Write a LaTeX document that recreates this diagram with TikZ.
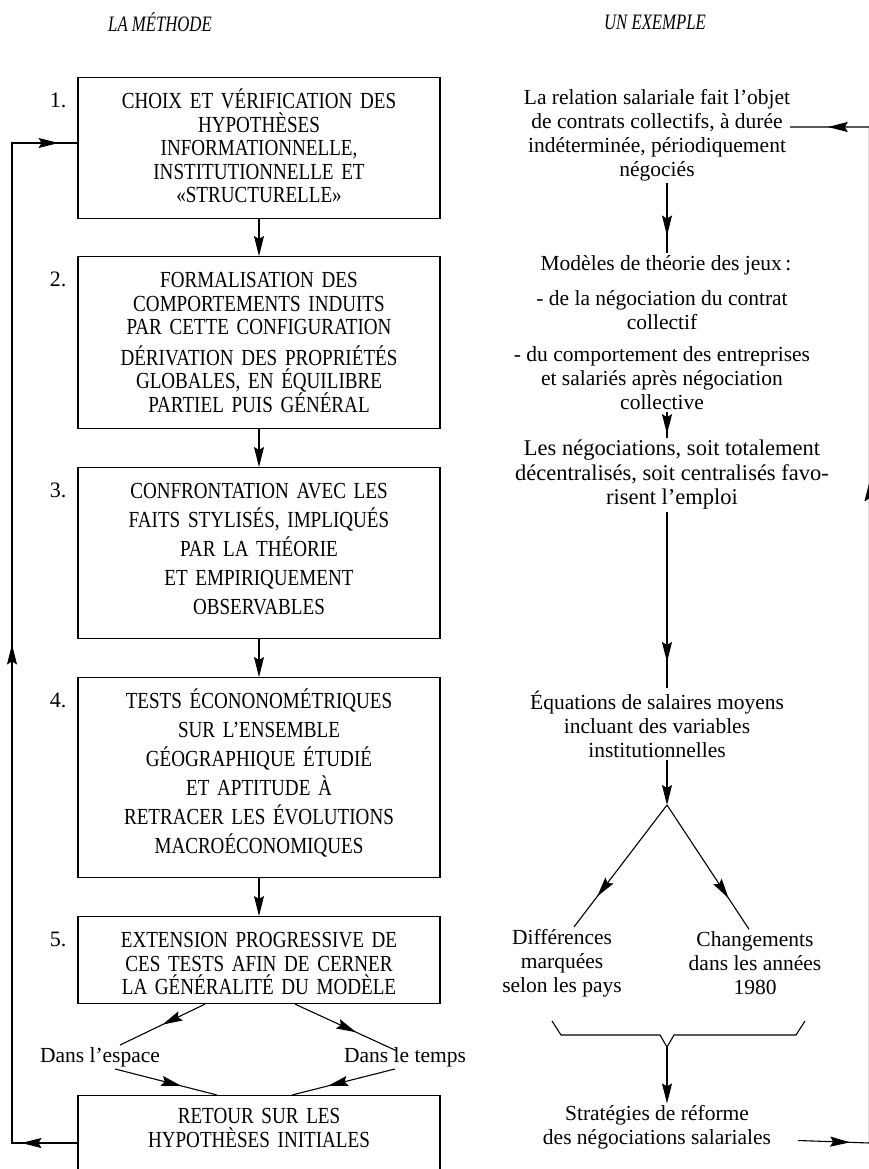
\documentclass[tikz,border=0pt]{standalone}
\usepackage{fontspec}
\setmainfont{Liberation Serif}
\newfontfamily\narrowfont[FakeStretch=0.83]{Liberation Serif}
\newfontfamily\headfont[FakeStretch=0.76]{Liberation Serif}
\usetikzlibrary{arrows.meta,decorations.markings}

\tikzset{
  >={Stealth[length=20pt,width=10pt,inset=3pt]},
  flow/.style={line width=1.1pt},
  methbox/.style={draw,line width=1.1pt,text width=354pt,align=center,inner sep=4pt,
    anchor=north,text height=27pt,font=\narrowfont\fontsize{23}{23.5}\selectfont},
  numlabel/.style={inner sep=0pt,font=\fontsize{22}{24}\selectfont},
  extext/.style={align=center,inner sep=2pt,font=\fontsize{21.5}{24}\selectfont},
  header/.style={font=\headfont\itshape\fontsize{22}{24}\selectfont},
  midarrow/.style={postaction={decorate},
    decoration={markings,mark=at position #1 with {\arrow{>}}}},
}

\begin{document}
\begin{tikzpicture}[x=1pt,y=-1pt]
  \useasboundingbox (0,0) rectangle (869,1169);
  \clip (0,0) rectangle (869,1169);

  % Method column
  \node[header] (hmeth) at (160,22) {LA MÉTHODE};
  \node[methbox,text depth=106pt] (box1) at (259,77)
    {CHOIX ET VÉRIFICATION DES\\HYPOTHÈSES\\INFORMATIONNELLE,\\INSTITUTIONNELLE ET\\«STRUCTURELLE»};
  \node[methbox,text depth=137pt] (box2) at (259,256)
    {FORMALISATION DES\\COMPORTEMENTS INDUITS\\PAR CETTE CONFIGURATION\\[7pt]DÉRIVATION DES PROPRIÉTÉS\\GLOBALES, EN ÉQUILIBRE\\PARTIEL PUIS GÉNÉRAL};
  \node[methbox,text depth=136pt,font=\narrowfont\fontsize{23}{29}\selectfont] (box3) at (259,467)
    {CONFRONTATION AVEC LES\\FAITS STYLISÉS, IMPLIQUÉS\\PAR LA THÉORIE\\ET EMPIRIQUEMENT\\OBSERVABLES};
  \node[methbox,text depth=165pt,font=\narrowfont\fontsize{23}{29}\selectfont] (box4) at (259,677)
    {TESTS ÉCONONOMÉTRIQUES\\SUR L’ENSEMBLE\\GÉOGRAPHIQUE ÉTUDIÉ\\ET APTITUDE À\\RETRACER LES ÉVOLUTIONS\\MACROÉCONOMIQUES};
  \node[methbox,text depth=52pt] (box5) at (259,916)
    {EXTENSION PROGRESSIVE DE\\CES TESTS AFIN DE CERNER\\LA GÉNÉRALITÉ DU MODÈLE};
  \node[methbox,text height=24pt,text depth=80pt] (retour) at (259,1095)
    {RETOUR SUR LES\\HYPOTHÈSES INITIALES};

  \node[numlabel] (n1) at (58,100) {1.};
  \node[numlabel] (n2) at (58,279) {2.};
  \node[numlabel] (n3) at (58,490) {3.};
  \node[numlabel] (n4) at (58,700) {4.};
  \node[numlabel] (n5) at (58,939) {5.};

  \node[extext] (espace) at (100,1057) {Dans l’espace};
  \node[extext] (temps) at (405,1057) {Dans le temps};

  \draw[flow,->] (box1) -- (box2);
  \draw[flow,->] (box2) -- (box3);
  \draw[flow,->] (box3) -- (box4);
  \draw[flow,->] (box4) -- (box5);
  \draw[flow,midarrow=0.5] ([xshift=-54pt]box5.south) -- ([xshift=20pt]espace.north);
  \draw[flow,midarrow=0.6] ([xshift=36pt]box5.south) -- ([xshift=-8pt,yshift=6pt]temps.center);
  \draw[flow,midarrow=0.65] ([xshift=15pt]espace.south) -- ([xshift=-42pt]retour.north);
  \draw[flow,midarrow=0.65] ([xshift=-10pt]temps.south) -- ([xshift=33pt]retour.north);

  % Example column
  \node[header] (hex) at (655,22) {UN EXEMPLE};
  \coordinate (axis) at (667,0);
  \node[extext] (r1) at (657,135)
    {La relation salariale fait l’objet\\de contrats collectifs, à durée\\indéterminée, périodiquement\\négociés};
  \node[extext] (r2) at (666,265) {Modèles de théorie des jeux\,:};
  \node[extext] (r3) at (662,310) {- de la négociation du contrat\\collectif};
  \node[extext] (r4) at (662,378) {- du comportement des entreprises\\et salariés après négociation\\collective};
  \node[extext,font=\fontsize{22.5}{24.5}\selectfont] (r5) at (672,475)
    {Les négociations, soit totalement\\décentralisés, soit centralisés favo-\\risent l’emploi};
  \node[extext] (r6) at (657,724)
    {Équations de salaires moyens\\incluant des variables\\institutionnelles};
  \coordinate (fork) at (667,805);
  \node[extext] (r7) at (562,963) {Différences\\marquées\\selon les pays};
  \node[extext] (r8) at (755,963) {Changements\\dans les années\\1980};
  \coordinate (brace) at (667,1047);
  \node[extext] (r9) at (657,1127.5) {Stratégies de réforme\\des négociations salariales};

  \draw[flow,midarrow=0.75] (r1.south -| axis) -- (r2.north -| axis);
  \draw[flow,midarrow=0.85] (r4.south -| axis) -- (r5.north -| axis);
  \draw[flow,midarrow=0.85] (r5.south -| axis) -- (r6.north -| axis);
  \draw[flow,->] (r6.south -| axis) -- (fork);
  \draw[flow,midarrow=0.75] (fork) -- ([xshift=12pt]r7.north);
  \draw[flow,midarrow=0.75] (fork) -- ([xshift=-6pt]r8.north);
  \draw[flow] (552,1021) -- (561,1035) -- (660,1035) -- (brace) -- (674,1035)
    -- (796,1035) -- (805,1021);
  \draw[flow,->] (brace) -- (r9.north -| axis);

  % Feedback loops
  \coordinate (lbot) at (12,1143);
  \coordinate (ltop) at (12,143);
  \draw[flow,postaction={decorate},decoration={markings,
      mark=at position 56pt with {\arrow{>}},
      mark=at position 564pt with {\arrow{>}},
      mark=at position 1112pt with {\arrow{>}}}]
    (retour.west |- lbot) -- (lbot) -- (ltop) -- (box1.west |- ltop);
  \coordinate (rbot) at (869.5,1143);
  \coordinate (rtop) at (869.5,127);
  \coordinate (rend) at (790,127);
  \draw[flow,postaction={decorate},decoration={markings,
      mark=at position 52pt with {\arrow{>}},
      mark=at position 733pt with {\arrow{>}},
      mark=at position 1129pt with {\arrow{>}}}]
    ([xshift=25pt,yshift=-13pt]r9.east) -- (rbot) -- (rtop) -- (rend);
\end{tikzpicture}
\end{document}
